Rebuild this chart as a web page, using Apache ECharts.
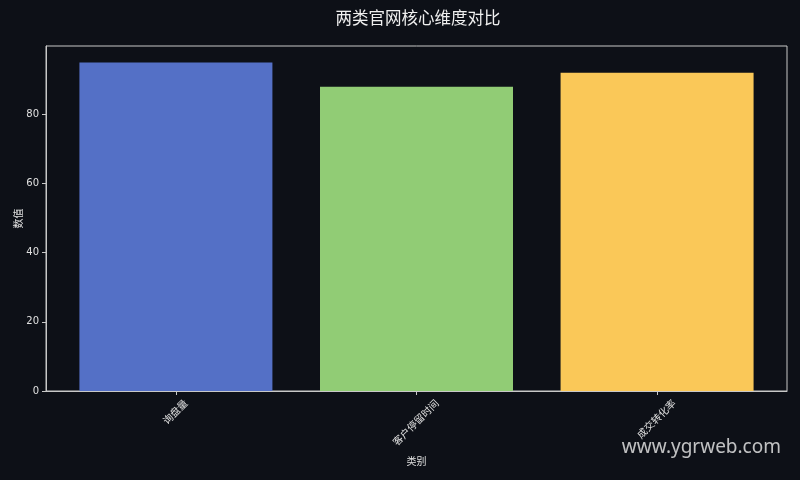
<!DOCTYPE html>
<html>
<head>
<meta charset="utf-8">
<script src="https://cdn.jsdelivr.net/npm/echarts@6/dist/echarts.min.js"></script>
<style>
    html, body { margin: 0; padding: 0; background: #0d1017; }
    #chart { width: 800px; height: 480px; }
</style>
</head>
<body>
<div id="chart"></div>
<script>
// 数据
const categories = ['询盘量', '客户停留时间', '成交转化率'];
const values = [95, 88, 92];
const barColors = ['#5470c6', '#91cc75', '#fac858'];
const yTicks = [0, 20, 40, 60, 80];

const fontFamily = '"DejaVu Sans", "Noto Sans CJK SC", sans-serif';
const axisColor = '#c8c8c8';
const textColor = '#e0e0e0';
const labelSize = 10;

// 旋转标签按中心对齐（类似 matplotlib 的 ha=center），用 padding 把文字往下推
const measureCtx = document.createElement('canvas').getContext('2d');
measureCtx.font = labelSize + 'px ' + fontFamily;
const labelRich = {};
categories.forEach((name, i) => {
    const w = measureCtx.measureText(name).width;
    labelRich['c' + i] = {
        color: textColor, fontSize: labelSize, fontFamily: fontFamily,
        lineHeight: 12,
        padding: [w / 2, w / 2, 0, 0]
    };
});

const chart = echarts.init(document.getElementById('chart'));

const option = {
    backgroundColor: '#0d1017',
    animation: false,
    title: {
        text: '两类官网核心维度对比',
        left: 413,
        top: 6,
        textAlign: 'center',
        textStyle: { color: '#f0f0f0', fontSize: 16.5, fontWeight: 'normal', fontFamily: fontFamily }
    },
    grid: {
        left: 46, right: 13, top: 46, bottom: 89,
        outerBoundsMode: 'none',
        show: true,
        borderColor: axisColor,
        borderWidth: 1,
        backgroundColor: 'transparent'
    },
    xAxis: {
        type: 'value',
        min: -0.54,
        max: 2.54,
        name: '类别',
        nameLocation: 'middle',
        nameGap: 66,
        nameMoveOverlap: false,
        nameTextStyle: { color: textColor, fontSize: 10, fontFamily: fontFamily },
        splitLine: { show: false },
        axisLine: { show: true, onZero: false, lineStyle: { color: axisColor } },
        axisTick: { show: true, length: 4, lineStyle: { color: axisColor }, customValues: [0, 1, 2] },
        axisLabel: {
            color: textColor, fontSize: labelSize, fontFamily: fontFamily,
            rotate: 45, margin: 11,
            align: 'center', verticalAlign: 'middle',
            customValues: [0, 1, 2],
            rich: labelRich,
            formatter: v => {
                const i = Math.round(v);
                return categories[i] ? '{c' + i + '|' + categories[i] + '}' : '';
            }
        }
    },
    yAxis: {
        type: 'value',
        min: 0,
        max: 99.75,
        name: '数值',
        nameLocation: 'middle',
        nameGap: 22,
        nameMoveOverlap: false,
        nameTextStyle: { color: textColor, fontSize: 10, fontFamily: fontFamily },
        splitLine: { show: false },
        axisLine: { show: true, onZero: false, lineStyle: { color: axisColor } },
        axisTick: { show: true, length: 4, lineStyle: { color: axisColor }, customValues: yTicks },
        axisLabel: { color: textColor, fontSize: 10, fontFamily: fontFamily, margin: 7, customValues: yTicks }
    },
    series: [{
        type: 'bar',
        barWidth: 193,
        data: values.map((v, i) => ({
            value: [i, v],
            itemStyle: { color: barColors[i] }
        }))
    }],
    graphic: [{
        type: 'text',
        right: 19,
        top: 438,
        style: {
            text: 'www.ygrweb.com',
            fill: 'rgba(225,225,225,0.85)',
            font: '19px "Noto Sans", sans-serif'
        }
    }]
};

chart.setOption(option);
</script>
</body>
</html>
